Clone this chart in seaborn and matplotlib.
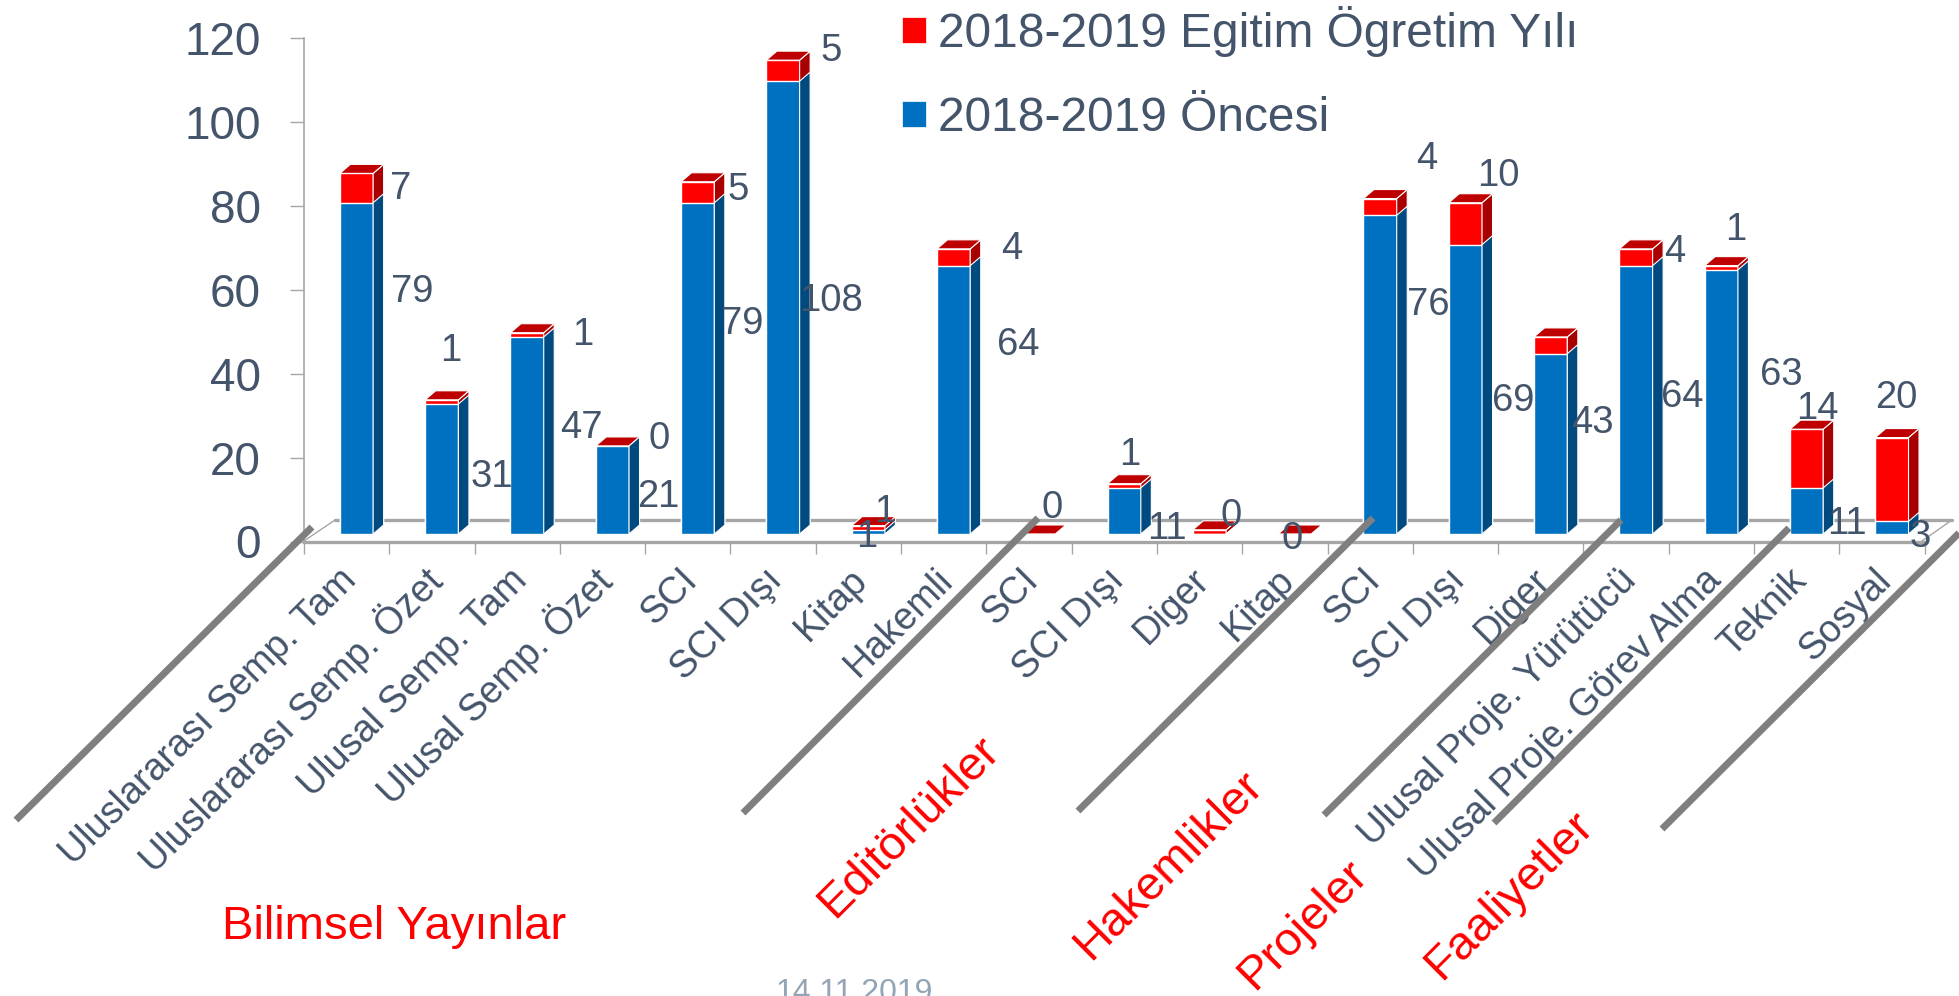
import matplotlib
matplotlib.use('Agg')
import matplotlib.pyplot as plt
import numpy as np
import seaborn as sns
from matplotlib.lines import Line2D
from matplotlib.patches import Patch, Polygon
from matplotlib.transforms import Affine2D, IdentityTransform

W, H = 1959, 996

categories = ['Uluslararası Semp. Tam', 'Uluslararası Semp. Özet', 'Ulusal Semp. Tam', 'Ulusal Semp. Özet',
              'SCI', 'SCI Dışı', 'Kitap', 'Hakemli', 'SCI', 'SCI Dışı', 'Diger', 'Kitap', 'SCI', 'SCI Dışı',
              'Diger', 'Ulusal Proje. Yürütücü', 'Ulusal Proje. Görev Alma', 'Teknik', 'Sosyal']
before = [79, 31, 47, 21, 79, 108, 1, 64, 0, 11, 0, 0, 76, 69, 43, 64, 63, 11, 3]
current = [7, 1, 1, 0, 5, 5, 1, 4, 0, 1, 1, 0, 4, 10, 4, 4, 1, 14, 20]
before_name = '2018-2019 Öncesi'
current_name = '2018-2019 Egitim Ögretim Yılı'
y_ticks = [0, 20, 40, 60, 80, 100, 120]
groups = ['Bilimsel Yayınlar', 'Editörlükler', 'Hakemlikler', 'Projeler', 'Faaliyetler']
date_text = '14.11.2019'

# hand placed labels in the original slide, pixel centres, None = label not shown
before_label_px = [(412, 292), (492, 477), (581, 428), (658, 497), (742, 324), (831, 301), (867, 537),
                   (1018, 345), None, (1167, 529), (1231, 516), None, (1428, 305), (1513, 401), (1592, 423),
                   (1682, 397), (1781, 375), (1847, 524), (1920, 537)]
current_label_px = [(401, 189), (451, 351), (583, 335), (659, 439), (738, 190), (831, 51), (885, 512),
                    (1012, 249), (1052, 508), (1130, 455), None, (1292, 539), (1427, 159), (1498, 176), None,
                    (1675, 252), (1736, 230), (1817, 409), (1896, 398)]
group_px = [(394, 927, 0), (909, 827, 45), (1169, 865, 45), (1303, 925, 45), (1509, 896, 45)]
divider_px = [(16, 820, 312, 527), (743, 813, 1038, 518), (1078, 811, 1373, 518),
              (1324, 815, 1621, 520), (1494, 823, 1789, 528), (1662, 829, 1959, 533)]

TEXT = '#44546A'
AXIS = '#A6A6A6'
BLUE, BLUE_SIDE = '#0070C0', '#004A80'
RED, RED_SIDE, RED_TOP = '#FF0000', '#A80000', '#BF0000'

# bar depth and offset from the axis plane, in pixels
DEPTH_X, DEPTH_Y = 10.5, 9
SHIFT_X, SHIFT_Y = 9.85, 7.5


def py(y):
    return H - y


def draw_faces(ax, bars, bar_shift, side_color, top_color=None):
    x_unit = 1 / 85.3
    y_unit = 1 / 4.193
    dx, dy = DEPTH_X * x_unit, DEPTH_Y * y_unit
    for bar in bars:
        x0 = bar.get_x()
        x1 = x0 + bar.get_width()
        y0 = bar.get_y()
        y1 = y0 + bar.get_height()
        bar.set_transform(bar_shift)
        bar.set_clip_on(False)
        side = [(x1, y0), (x1 + dx, y0 + dy), (x1 + dx, y1 + dy), (x1, y1)]
        ax.add_patch(Polygon(side, facecolor=side_color, edgecolor='white', lw=0.8,
                             transform=bar_shift, clip_on=False, zorder=bar.get_zorder()))
        if top_color:
            top = [(x0, y1), (x1, y1), (x1 + dx, y1 + dy), (x0 + dx, y1 + dy)]
            ax.add_patch(Polygon(top, facecolor=top_color, edgecolor='white', lw=0.8,
                                 transform=bar_shift, clip_on=False, zorder=bar.get_zorder()))


def main():
    sns.set_style('white')
    plt.rcParams['font.family'] = ['Liberation Sans', 'DejaVu Sans']

    fig = plt.figure(figsize=(W / 100, H / 100), dpi=100)
    ax = fig.add_axes([304 / W, (H - 541.5) / H, 19 * 85.3 / W, 503.2 / H])
    pixels = IdentityTransform()

    # floor behind the bars
    ax.plot([335, 1952], [py(520), py(520)], color=AXIS, lw=2.4, transform=pixels, clip_on=False, zorder=0.5)
    ax.plot([304, 335], [py(541), py(520)], color=AXIS, lw=1, transform=pixels, clip_on=False, zorder=0.5)
    ax.plot([1922, 1952], [py(541), py(520)], color=AXIS, lw=1, transform=pixels, clip_on=False, zorder=0.5)

    positions = np.arange(len(categories))
    totals = np.array(before) + np.array(current)
    sns.barplot(x=positions, y=totals, color=RED, saturation=1, width=0.39, errorbar=None,
                edgecolor='white', linewidth=1, zorder=2, ax=ax)
    red_bars = list(ax.patches)
    sns.barplot(x=positions, y=before, color=BLUE, saturation=1, width=0.39, errorbar=None,
                edgecolor='white', linewidth=1, zorder=2.1, ax=ax)
    blue_bars = list(ax.patches)[len(red_bars):]

    bar_shift = ax.transData + Affine2D().translate(SHIFT_X, SHIFT_Y)
    draw_faces(ax, red_bars, bar_shift, RED_SIDE, RED_TOP)
    draw_faces(ax, blue_bars, bar_shift, BLUE_SIDE)

    ax.set_xlim(-0.5, 18.5)
    ax.set_ylim(0, 120)
    ax.set_yticks(y_ticks)
    ax.set_xticks(positions)
    ax.set_xticklabels(categories, rotation=45, ha='right', va='center', rotation_mode='anchor',
                       fontsize=27.2, color=TEXT)
    ax.set_xticks(np.arange(-0.5, 19), minor=True)
    ax.tick_params(axis='x', which='major', bottom=False, length=0, pad=24)
    ax.tick_params(axis='x', which='minor', bottom=True, length=8.5, width=1, color=AXIS)
    ax.tick_params(axis='y', left=True, length=10, width=1, color=AXIS, pad=21, labelsize=33, labelcolor=TEXT)
    ax.set_xlabel('')
    ax.set_ylabel('')
    for lab in ax.get_xticklabels():
        lab.set_transform(lab.get_transform() + Affine2D().translate(4, 0))

    sns.despine(ax=ax, top=True, right=True)
    ax.spines['left'].set_color(AXIS)
    ax.spines['left'].set_linewidth(1.2)
    ax.spines['bottom'].set_color(AXIS)
    ax.spines['bottom'].set_linewidth(2.4)
    ax.patch.set_alpha(0)

    for values, spots in [(before, before_label_px), (current, current_label_px)]:
        for value, spot in zip(values, spots):
            if spot is None:
                continue
            ax.text(spot[0], py(spot[1]), str(value), transform=pixels, ha='center', va='center',
                    fontsize=27.5, color=TEXT, clip_on=False, zorder=5)

    for name, (x, y, angle) in zip(groups, group_px):
        fig.text(x / W, py(y) / H, name, rotation=angle, ha='center', va='center',
                 rotation_mode='anchor', fontsize=34, color=RED)
    fig.text(854 / W, py(993) / H, date_text, ha='center', va='center', fontsize=23, color='#93A4B5')

    handles = [Patch(facecolor=RED, edgecolor='white', linewidth=0.5),
               Patch(facecolor=BLUE, edgecolor='white', linewidth=0.5)]
    fig.legend(handles, [current_name, before_name], loc='upper left', bbox_to_anchor=(864 / W, 1.032),
               frameon=False, fontsize=34.5, labelcolor=TEXT, handlelength=0.5, handleheight=0.46,
               handletextpad=0.25, labelspacing=0.8, borderpad=0.3)

    for x0, y0, x1, y1 in divider_px:
        fig.add_artist(Line2D([x0 / W, x1 / W], [py(y0) / H, py(y1) / H], color='#7F7F7F', lw=5,
                              solid_capstyle='butt', zorder=6))

    plt.savefig('out.png', dpi=100)
    plt.close()


main()
